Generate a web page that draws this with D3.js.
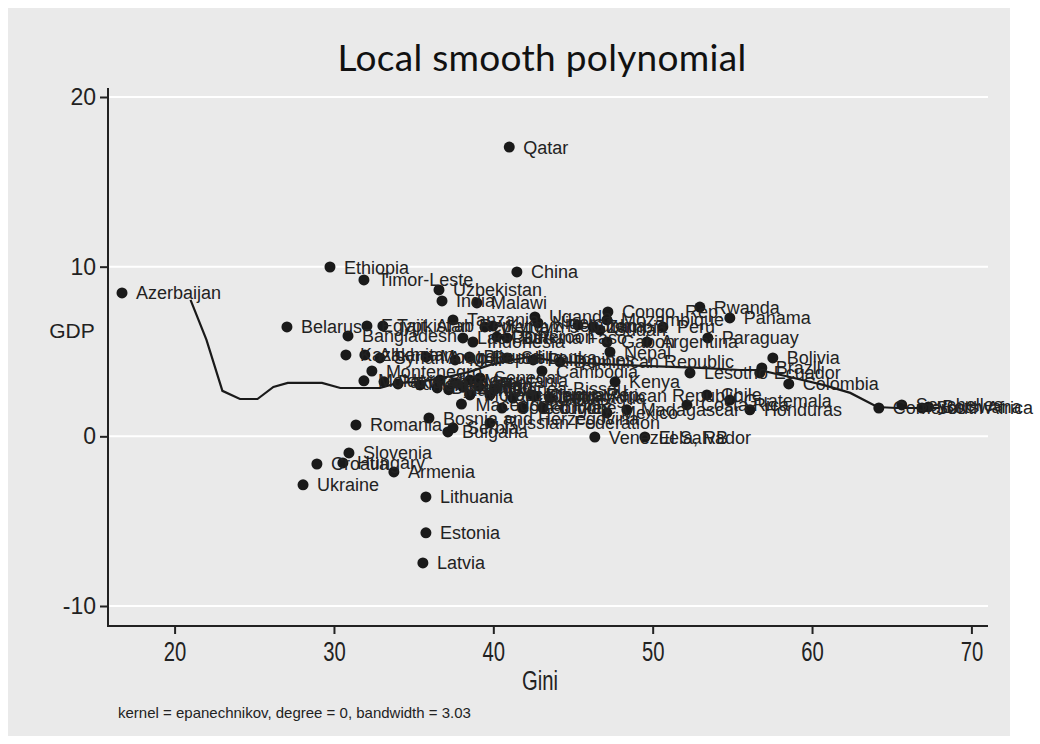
<!DOCTYPE html>
<html>
<head>
<meta charset="utf-8">
<script src="https://cdn.jsdelivr.net/npm/d3@7"></script>
<style>
  html, body { margin: 0; padding: 0; background: #ffffff; }
  svg { display: block; }
</style>
</head>
<body>
<svg id="chart" width="1040" height="744"></svg>
<script>
// Country labels, Gini index and GDP growth (%) for each scatter point
const countries = [
  "Qatar","Ethiopia","China","Timor-Leste","Azerbaijan","Uzbekistan","India","Malawi",
  "Rwanda","Panama","Congo, Rep.","Tanzania","Belarus","Egypt, Arab Rep.","Tajikistan","Bangladesh",
  "Uganda","Niger","Mozambique","Zambia","Ghana","Peru","Sudan","Paraguay",
  "Argentina","Gabon","Nepal","Burkina Faso","Indonesia","Lao PDR","Vietnam","Kyrgyz Republic",
  "Cameroon","Kazakhstan","Albania","Syrian Arab Republic","Mongolia","Mali","Burundi","Sri Lanka",
  "Philippines","Dominican Republic","Cambodia","Kenya","Lesotho","Bolivia","Brazil","Ecuador",
  "Colombia","Moldova","Pakistan","Montenegro","Tunisia","Yemen, Rep.","Jordan","Guinea",
  "Mauritania","Senegal","Morocco","Iran, Islamic Rep.","Thailand","Uruguay","Nicaragua","Georgia",
  "Turkey","Cote d'Ivoire","Mexico","Madagascar","Costa Rica","Central African Republic","Chile","Guatemala",
  "Honduras","Bosnia and Herzegovina","Bulgaria","Serbia","Russian Federation","Romania","Venezuela, RB","El Salvador",
  "Slovenia","Croatia","Hungary","Armenia","Ukraine","Lithuania","Estonia","Latvia",
  "Comoros","Seychelles","Botswana","South Africa","Macedonia, FYR","Djibouti","Mauritius","Benin",
  "Togo","Guinea-Bissau"
];
const gini = [
  41.0, 29.75, 41.48, 31.88, 16.7, 36.59, 36.78, 38.97,
  52.96, 54.84, 47.19, 37.47, 27.05, 32.07, 33.07, 30.88,
  42.61, 42.8, 47.13, 46.25, 45.31, 50.64, 46.69, 53.46,
  49.64, 47.13, 47.32, 40.86, 38.72, 38.09, 39.47, 39.97,
  40.22, 30.75, 31.94, 32.88, 35.78, 37.6, 38.5, 40.86,
  42.5, 44.18, 43.05, 47.64, 52.34, 57.54, 56.85, 56.72,
  58.54, 31.88, 33.14, 32.38, 34.02, 35.4, 36.65, 37.6,
  38.53, 39.16, 38.53, 39.79, 41.23, 42.42, 43.55, 41.86,
  43.11, 40.54, 47.13, 48.38, 52.15, 42.61, 53.4, 54.84,
  56.1, 35.96, 37.15, 37.47, 39.79, 31.38, 46.37, 49.51,
  30.94, 28.93, 30.56, 33.76, 28.06, 35.77, 35.77, 35.58,
  64.19, 65.63, 67.3, 66.9, 38.0, 36.48, 37.2, 38.1,
  39.1, 40.1
];
const gdp = [
  17.05, 9.98, 9.69, 9.22, 8.45, 8.63, 7.98, 7.86,
  7.62, 6.98, 7.33, 6.86, 6.45, 6.51, 6.51, 5.92,
  7.04, 6.68, 6.86, 6.45, 6.56, 6.45, 6.27, 5.8,
  5.56, 5.56, 4.97, 5.8, 5.56, 5.8, 6.45, 6.51,
  5.86, 4.8, 4.8, 4.62, 4.68, 4.5, 4.68, 4.62,
  4.5, 4.39, 3.85, 3.21, 3.74, 4.62, 4.03, 3.74,
  3.09, 3.27, 3.21, 3.85, 3.09, 3.03, 3.32, 3.15,
  3.32, 3.44, 2.44, 2.44, 2.26, 2.44, 2.26, 1.67,
  1.67, 1.67, 1.38, 1.56, 1.85, 2.38, 2.44, 2.14,
  1.56, 1.08, 0.26, 0.5, 0.79, 0.67, -0.04, -0.04,
  -0.98, -1.63, -1.57, -2.1, -2.86, -3.57, -5.69, -7.46,
  1.67, 1.85, 1.73, 1.67, 1.9, 2.85, 2.75, 2.9,
  2.95, 2.8
];

// Local polynomial smooth (Epanechnikov kernel, degree 0) evaluated along Gini
const smoothGini = [21.0, 22.0, 23.0, 24.1, 25.2, 26.2, 27.1, 29.25, 30.4, 31.4, 32.9, 34.0, 35.4, 37.1,
  38.5, 39.8, 41.2, 42.3, 44.2, 46.7, 49.4, 53.0, 55.5, 56.7, 58.6, 60.7, 62.4, 64.1, 65.3, 68.0];
const smoothGdp = [8.04, 5.68, 2.68, 2.2, 2.2, 2.91, 3.15, 3.15, 2.85, 2.85, 2.85, 3.15, 3.21, 3.5,
  3.8, 4.21, 4.5, 4.68, 4.39, 4.27, 4.15, 4.03, 3.91, 3.91, 3.5, 3.03, 2.56, 1.73, 1.67, 1.67];

const xTicks = [20, 30, 40, 50, 60, 70];
const yTicks = [-10, 0, 10, 20];

const svg = d3.select("#chart");
const SANS = "'Liberation Sans', Arial, Helvetica, sans-serif";

// Grey graph region
svg.append("rect").attr("x", 8).attr("y", 8).attr("width", 1002).attr("height", 728).attr("fill", "#eaeaea");

const plotLeft = 108, plotRight = 988, plotBottom = 626, plotTop = 88;
const x = d3.scaleLinear().domain([20, 70]).range([174.6, 971.4]);
const y = d3.scaleLinear().domain([-10, 20]).range([606, 97]);

// Horizontal grid lines
svg.append("g").selectAll("line").data(yTicks).join("line")
  .attr("x1", plotLeft).attr("x2", plotRight)
  .attr("y1", d => y(d)).attr("y2", d => y(d))
  .attr("stroke", "#ffffff").attr("stroke-width", 2);

// Y axis
const yAxis = svg.append("g").attr("transform", `translate(${plotLeft},0)`)
  .call(d3.axisLeft(y).tickValues(yTicks).tickSize(8).tickPadding(4).tickFormat(d => String(d)));
yAxis.select(".domain").remove();
yAxis.selectAll(".tick line").attr("stroke", "#222").attr("stroke-width", 2);
yAxis.selectAll(".tick text").attr("font-family", SANS)
  .attr("font-size", 23).attr("fill", "#222");
svg.append("line").attr("x1", plotLeft).attr("x2", plotLeft).attr("y1", plotTop).attr("y2", plotBottom + 1)
  .attr("stroke", "#222").attr("stroke-width", 2);

// X axis (condensed tick labels)
const xAxis = svg.append("g").attr("transform", `translate(0,${plotBottom})`)
  .call(d3.axisBottom(x).tickValues(xTicks).tickSize(8).tickPadding(6).tickFormat(d => String(d)));
xAxis.select(".domain").remove();
xAxis.selectAll(".tick line").attr("stroke", "#222").attr("stroke-width", 2);
xAxis.selectAll(".tick text").attr("font-family", SANS)
  .attr("font-size", 27).attr("fill", "#222")
  .attr("y", 0).attr("dy", 0)
  .attr("transform", "translate(0,35) scale(0.75,1)");
svg.append("line").attr("x1", plotLeft - 1).attr("x2", plotRight).attr("y1", plotBottom).attr("y2", plotBottom)
  .attr("stroke", "#222").attr("stroke-width", 2);

// Smooth line
const line = d3.line().x(d => x(d[0])).y(d => y(d[1]));
svg.append("path").datum(smoothGini.map((g, i) => [g, smoothGdp[i]]))
  .attr("d", line).attr("fill", "none").attr("stroke", "#1a1a1a").attr("stroke-width", 2.2);

// Points with country labels
const pts = countries.map((c, i) => ({ c, g: gini[i], v: gdp[i] }));
svg.append("g").selectAll("circle").data(pts).join("circle")
  .attr("cx", d => x(d.g)).attr("cy", d => y(d.v)).attr("r", 5.5).attr("fill", "#1a1a1a");
svg.append("g").selectAll("text").data(pts).join("text")
  .attr("x", d => x(d.g) + 14).attr("y", d => y(d.v) + 6.5)
  .attr("font-family", SANS).attr("font-size", 18)
  .attr("fill", "#222").text(d => d.c);

// Titles
svg.append("text").attr("x", 542).attr("y", 71).attr("text-anchor", "middle")
  .attr("font-family", "Lato, sans-serif").attr("font-size", 37).attr("letter-spacing", 0.3)
  .attr("fill", "#111").text("Local smooth polynomial");
svg.append("text").attr("transform", "translate(540,690) scale(0.75,1)").attr("text-anchor", "middle")
  .attr("font-family", SANS).attr("font-size", 27).attr("fill", "#222")
  .text("Gini");
svg.append("text").attr("x", 72).attr("y", 338).attr("text-anchor", "middle")
  .attr("font-family", SANS).attr("font-size", 21).attr("fill", "#222")
  .text("GDP");
svg.append("text").attr("x", 118).attr("y", 718)
  .attr("font-family", SANS).attr("font-size", 15).attr("fill", "#222")
  .text("kernel = epanechnikov, degree = 0, bandwidth = 3.03");
</script>
</body>
</html>
